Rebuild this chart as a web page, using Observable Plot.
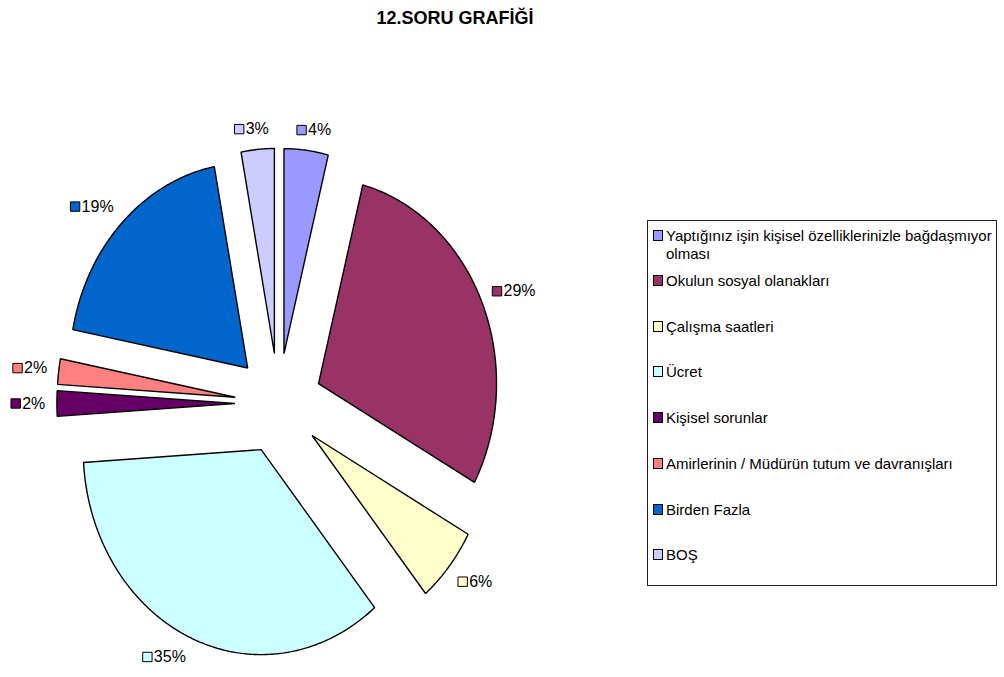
<!DOCTYPE html>
<html><head><meta charset="utf-8">
<script src="https://cdn.jsdelivr.net/npm/d3@7"></script>
<script src="https://cdn.jsdelivr.net/npm/@observablehq/plot@0.6"></script>
<style>
body{margin:0;background:#fff;font-family:"Liberation Sans",Arial,sans-serif;}
#wrap{position:relative;width:1004px;height:677px;overflow:hidden;background:#fff;}
#wrap svg{position:absolute;left:0;top:0;}
#title{position:absolute;left:305px;width:300px;top:9px;text-align:center;font-weight:bold;font-size:18px;line-height:18px;color:#000;}
#legend{position:absolute;left:647px;top:220px;width:348px;height:364px;border:1px solid #222;}
.item{position:absolute;left:5px;font-size:15px;line-height:18px;color:#000;}
.sw{position:absolute;left:0;top:3px;width:8px;height:9px;border:1px solid #000;}
.txt{position:absolute;left:13px;width:332px;}
</style></head><body><div id="wrap"><div id="title"></div><div id="legend"></div></div>
<script>
const title = "12.SORU GRAFİĞİ";
const categories = [
  "Yaptığınız işin kişisel özelliklerinizle bağdaşmıyor olması",
  "Okulun sosyal olanakları",
  "Çalışma saatleri",
  "Ücret",
  "Kişisel sorunlar",
  "Amirlerinin / Müdürün tutum ve davranışları",
  "Birden Fazla",
  "BOŞ"
];
const values = [4, 29, 6, 35, 2, 2, 19, 3];
const labels = ["4%", "29%", "6%", "35%", "2%", "2%", "19%", "3%"];
const colors = ["#9999FF", "#993366", "#FFFFCC", "#CCFFFF", "#660066", "#FF8080", "#0066CC", "#CCCCFF"];

// layout
const cx = 278, cy = 403, rx = 178, ry = 205, explode = 0.245, labelR = 1.31;
const labelFont = 16, labelH = 14;
const clamp = v => Math.max(-1, Math.min(1, v));

const pie = d3.pie().sort(null).value(d => d)(values);
const slices = [];
const labelData = [];
const canvas = document.createElement("canvas");
const ctx = canvas.getContext("2d");
ctx.font = labelFont + "px 'Liberation Sans'";
pie.forEach((p, i) => {
  const mid = (p.startAngle + p.endAngle) / 2;
  const ox = explode * Math.sin(mid), oy = explode * Math.cos(mid);
  slices.push({k: categories[i], x: ox, y: oy});
  const span = p.endAngle - p.startAngle;
  const n = Math.max(4, Math.ceil(span / 0.01));
  for (let j = 0; j <= n; j++) {
    const t = p.startAngle + span * j / n;
    slices.push({k: categories[i], x: ox + Math.sin(t), y: oy + Math.cos(t)});
  }
  const tw = ctx.measureText(labels[i]).width;
  const total = 9 + 2 + tw;
  // anchor on a ring outside the pie; label box pushed outward from the anchor
  const lx = labelR * Math.sin(mid) + (total / 2) * clamp(3 * Math.sin(mid)) / rx;
  const ly = labelR * Math.cos(mid) + (labelH / 2) * clamp(2 * Math.cos(mid)) / ry;
  labelData.push({
    k: categories[i],
    label: labels[i],
    sx: lx + (-total / 2 + 4.5) / rx,
    tx: lx + (-total / 2 + 11) / rx,
    y: ly
  });
});

const chart = Plot.plot({
  width: 1004,
  height: 677,
  margin: 0,
  style: {fontFamily: "'Liberation Sans', Arial, sans-serif", background: "transparent"},
  x: {domain: [-1, 1], range: [cx - rx, cx + rx], axis: null},
  y: {domain: [-1, 1], range: [cy + ry, cy - ry], axis: null},
  color: {type: "ordinal", domain: categories, range: colors},
  marks: [
    Plot.line(slices, {x: "x", y: "y", z: "k", fill: "k", stroke: "black", strokeWidth: 1.4, strokeLinejoin: "miter", curve: "linear-closed"}),
    Plot.dot(labelData, {x: "sx", y: "y", fill: "k", stroke: "black", strokeWidth: 1, symbol: "square", r: 5.3}),
    Plot.text(labelData, {x: "tx", y: "y", text: "label", textAnchor: "start", fontSize: labelFont, fill: "black"})
  ]
});
const wrap = document.getElementById("wrap");
wrap.insertBefore(chart, wrap.firstChild);

document.getElementById("title").textContent = title;
const legend = document.getElementById("legend");
categories.forEach((c, i) => {
  const top = i === 0 ? 6 : 51 + (i - 1) * 45.7;
  const item = document.createElement("div");
  item.className = "item";
  item.style.top = top + "px";
  const sw = document.createElement("div");
  sw.className = "sw";
  sw.style.background = colors[i];
  const tx = document.createElement("div");
  tx.className = "txt";
  tx.textContent = c;
  item.appendChild(sw);
  item.appendChild(tx);
  legend.appendChild(item);
});
</script>
</body></html>
